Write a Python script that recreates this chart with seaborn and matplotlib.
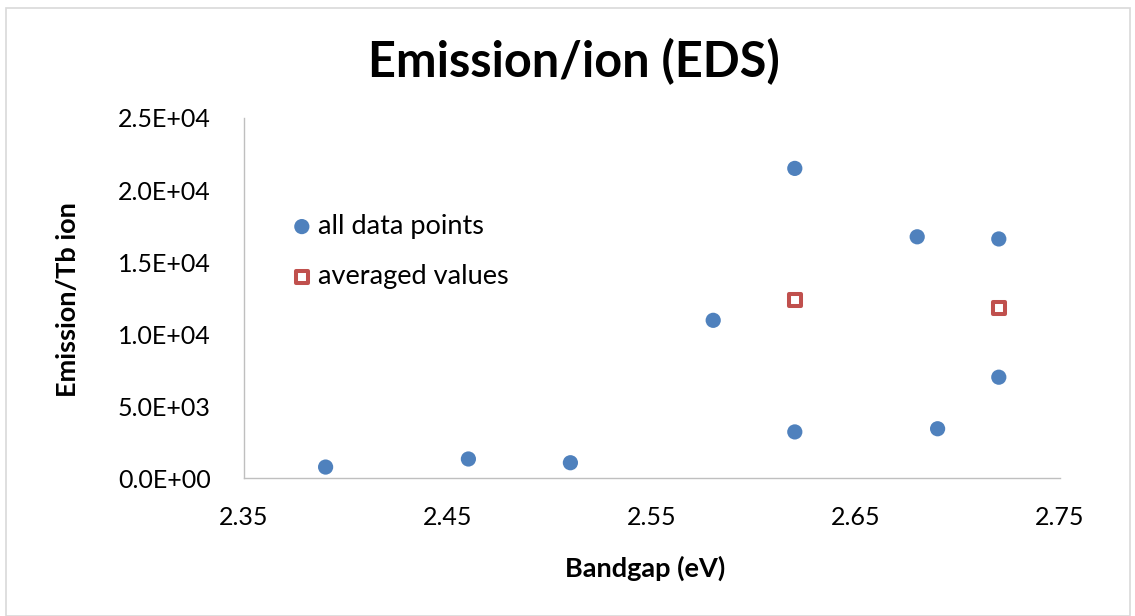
import numpy as np
import pandas as pd
import matplotlib
matplotlib.use("Agg")
import matplotlib.pyplot as plt
from matplotlib.patches import Rectangle
from matplotlib.ticker import FuncFormatter, MultipleLocator
import seaborn as sns

# Emission per Tb ion versus bandgap, from EDS
bandgap_all = [2.39, 2.46, 2.51, 2.58, 2.62, 2.62, 2.68, 2.69, 2.72, 2.72]
emission_all = [760, 1320, 1060, 10950, 21500, 3200, 16750, 3420, 16600, 7000]

bandgap_avg = [2.62, 2.72]
emission_avg = [12350, 11800]

x_ticks = [2.35, 2.45, 2.55, 2.65, 2.75]

df_all = pd.DataFrame({"bandgap": bandgap_all, "emission": emission_all})
df_avg = pd.DataFrame({"bandgap": bandgap_avg, "emission": emission_avg})

sns.set_theme(style="white")
plt.rcParams["font.family"] = ["Lato", "DejaVu Sans"]
plt.rcParams["text.color"] = "#000000"

W, H, DPI = 1135, 616, 100
fig = plt.figure(figsize=(W / DPI, H / DPI), dpi=DPI)
ax = fig.add_axes([244 / W, 1 - 478 / H, (1060 - 244) / W, (478 - 118) / H])

blue = "#4F81BD"
red = "#C0504D"

sns.scatterplot(data=df_all, x="bandgap", y="emission", ax=ax,
                color=blue, s=120, edgecolor="none", marker="o",
                label="all data points", zorder=3)
sns.scatterplot(data=df_avg, x="bandgap", y="emission", ax=ax,
                facecolor="white", edgecolor=red, linewidth=2.9, s=76,
                marker="s", label="averaged values", zorder=3)

ax.set_xlim(2.35, 2.75)
ax.set_ylim(0, 25000)
ax.set_xticks(x_ticks)
ax.xaxis.set_major_formatter(FuncFormatter(lambda v, p: f"{v:.2f}"))
ax.yaxis.set_major_locator(MultipleLocator(5000))
ax.yaxis.set_major_formatter(FuncFormatter(lambda v, p: f"{v:.1E}"))
ax.tick_params(axis="both", length=0, labelsize=18, colors="#000000")
ax.tick_params(axis="x", pad=20)
ax.tick_params(axis="y", pad=24)

for side in ("top", "right"):
    ax.spines[side].set_visible(False)
for side in ("left", "bottom"):
    ax.spines[side].set_color("#BFBFBF")
    ax.spines[side].set_linewidth(1.0)
ax.grid(False)

ax.set_xlabel("")
ax.set_ylabel("")
fig.text(645 / W, 1 - 568 / H, "Bandgap (eV)", ha="center", va="center",
         fontsize=19.5, fontweight="bold")
fig.text(68 / W, 1 - 300 / H, "Emission/Tb ion", ha="center", va="center",
         rotation=90, fontsize=19.5, fontweight="bold")
fig.text(574 / W, 1 - 62 / H, "Emission/ion (EDS)", ha="center", va="center",
         fontsize=35, fontweight="bold")

leg = ax.legend(loc="center left", bbox_to_anchor=(0.041, 0.629), frameon=False,
                fontsize=19.5, handletextpad=0.1, labelspacing=0.95,
                borderaxespad=0, handlelength=1.0)

# chart area frame
fig.patches.append(Rectangle((6 / W, 0), (1130 - 6) / W, (H - 8) / H,
                             transform=fig.transFigure, fill=False,
                             edgecolor="#D9D9D9", linewidth=1.2))

fig.savefig("out.png", dpi=DPI)
